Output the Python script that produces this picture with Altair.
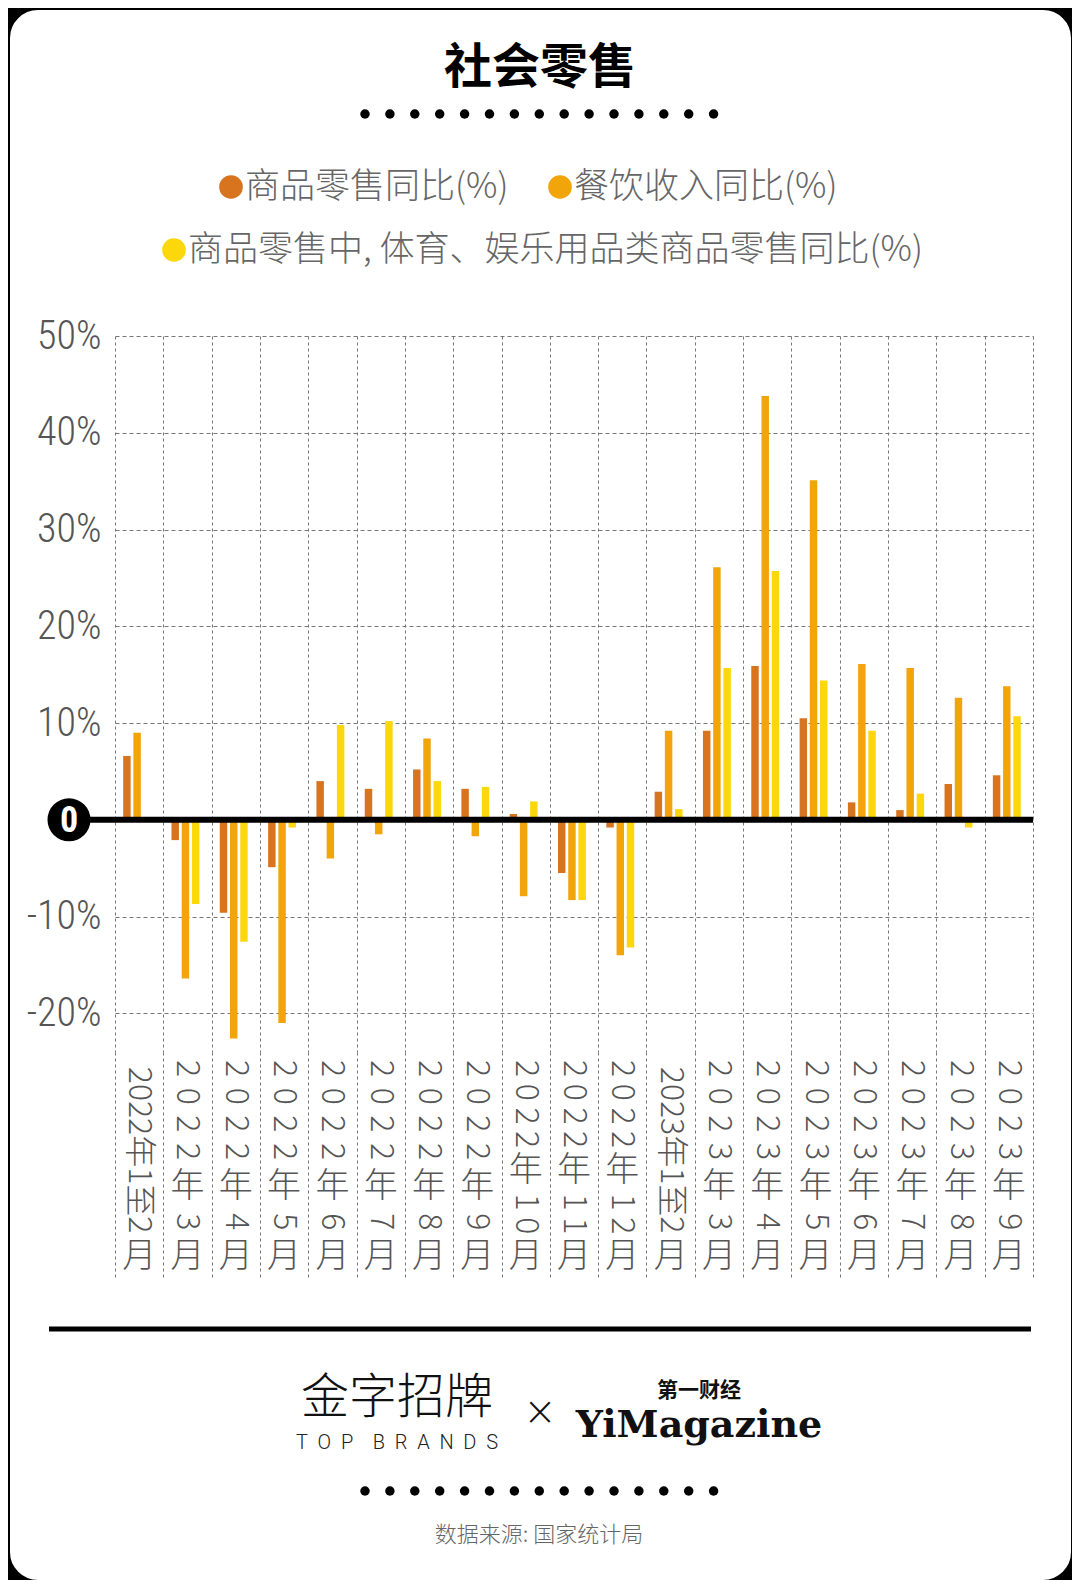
import altair as alt
import pandas as pd

# ---------------- data ----------------
categories = ["2022年1至2月", "2022年3月", "2022年4月", "2022年5月", "2022年6月",
              "2022年7月", "2022年8月", "2022年9月", "2022年10月", "2022年11月",
              "2022年12月", "2023年1至2月", "2023年3月", "2023年4月", "2023年5月",
              "2023年6月", "2023年7月", "2023年8月", "2023年9月"]
series = ["商品零售同比(%)", "餐饮收入同比(%)", "商品零售中, 体育、娱乐用品类商品零售同比(%)"]
goods = [6.6, -2.1, -9.6, -4.9, 4.0, 3.2, 5.2, 3.2, 0.6, -5.5, -0.8, 2.9, 9.2, 15.9, 10.5, 1.8, 1.0, 3.7, 4.6]
catering = [9.0, -16.4, -22.6, -21.0, -4.0, -1.5, 8.4, -1.7, -7.9, -8.3, -14.0, 9.2, 26.1, 43.8, 35.1, 16.1, 15.7, 12.6, 13.8]
sports = [None, -8.7, -12.6, -0.8, 9.8, 10.2, 4.0, 3.4, 1.9, -8.3, -13.2, 1.1, 15.7, 25.7, 14.4, 9.2, 2.7, -0.8, 10.7]
colors = ["#D8731E", "#F2A40B", "#FBD70C"]
y_ticks = [-20, -10, 0, 10, 20, 30, 40, 50]
title_text = "社会零售"
source_text = "数据来源: 国家统计局"

# ---------------- layout ----------------
W, H = 918, 716
OX, OY = 115, 336            # plot origin on the page
PAD = {"left": OX - 8, "top": OY - 8, "right": 1072 - (OX + W), "bottom": 1580 - (OY + H)}
CJK = "Noto Sans CJK SC"
COND = "Roboto Condensed, Liberation Sans Narrow, DejaVu Sans Condensed, Roboto, sans-serif"
GRID = "#777777"
NB = "\u00a0"


def px(x):
    return x - OX


def py(y):
    return y - OY


rows = []
for i, c in enumerate(categories):
    for s, vals in zip(series, [goods, catering, sports]):
        if vals[i] is not None:
            rows.append({"cat": c, "series": s, "value": vals[i]})
df = pd.DataFrame(rows)

xscale = alt.Scale(type="band", domain=categories, paddingInner=0, paddingOuter=0)
yscale = alt.Scale(domain=[-24, 50], nice=False, zero=True)
cscale = alt.Scale(domain=series, range=colors)

x_axis = alt.Axis(title=None, labels=False, domain=False, grid=True,
                  gridColor=GRID, gridDash=[3, 3], gridWidth=1,
                  tickBand="extent", ticks=True, tickSize=225,
                  tickColor=GRID, tickDash=[3, 3], tickWidth=1)

bars = alt.Chart(df).mark_bar().encode(
    x=alt.X("cat:N", scale=xscale, sort=categories, axis=x_axis),
    xOffset=alt.XOffset("series:N", sort=series,
                        scale=alt.Scale(paddingInner=0.27, paddingOuter=1, align=0.4)),
    y=alt.Y("value:Q", scale=yscale,
            axis=alt.Axis(values=y_ticks, title=None,
                          labelExpr="datum.value == 0 ? '' : datum.value + '%'",
                          grid=True, gridDash=[4, 3], gridColor=GRID, gridWidth=1,
                          domain=False, ticks=False, labelFont=COND, labelFontSize=40,
                          labelFontWeight=300, labelColor="#555555", labelPadding=14)),
    color=alt.Color("series:N", scale=cscale, legend=None),
)

zero_df = pd.DataFrame({"v": [0], "t": ["0"]})
baseline = alt.Chart(zero_df).mark_rule(color="black", strokeWidth=6).encode(
    y=alt.Y("v:Q", scale=yscale), x=alt.value(px(69)), x2=alt.value(W))
zero_dot = alt.Chart(zero_df).mark_point(filled=True, color="black", opacity=1, size=1850, shape="circle").encode(
    y=alt.Y("v:Q", scale=yscale), x=alt.value(px(69)))
zero_txt = alt.Chart(zero_df).mark_text(color="white", fontSize=36, font=COND, fontWeight="bold",
                                        baseline="middle", align="center", dy=1).encode(
    y=alt.Y("v:Q", scale=yscale), x=alt.value(px(69)), text="t:N")

# vertical category labels: digits turned sideways, CJK upright, justified to one length
LAB_TOP, LAB_LEN, LFS = py(1059), 215, 34
DIG = 0.56 * LFS


def seg_len(s):
    return sum(DIG if ch.isdigit() else LFS for ch in s)


glyphs = []
for c in categories:
    if "至" in c:
        segs = [(c[:-1], True), (c[-1], False)]
    else:
        segs = [(ch, ch.isdigit()) for ch in c]
    lens = [seg_len(s) for s, _ in segs]
    gap = (LAB_LEN - sum(lens)) / (len(segs) - 1)
    pos = LAB_TOP
    for (s, rot), ln in zip(segs, lens):
        glyphs.append({"cat": c, "t": s, "rot": rot, "cy": pos + ln / 2})
        pos += ln + gap
gdf = pd.DataFrame(glyphs)


def label_layer(rot):
    return alt.Chart(gdf[gdf["rot"] == rot]).mark_text(
        angle=90 if rot else 0, font=CJK, fontSize=LFS if not rot else 32, fontWeight=300,
        color="#555555", align="center", baseline="middle").encode(
        x=alt.X("cat:N", scale=xscale, sort=categories, axis=x_axis),
        y=alt.Y("cy:Q", scale=None, axis=None),
        text="t:N")


def text_at(s, x, y, **kw):
    return alt.Chart(pd.DataFrame({"t": [s]})).mark_text(**kw).encode(
        x=alt.value(x), y=alt.value(y), text="t:N")


title = text_at(title_text, px(540), py(69), font=CJK, fontSize=48, fontWeight="bold",
                color="black", align="center", baseline="middle")

# dotted separators
dots = pd.DataFrame({"dx": [px(365) + 24.9 * i for i in range(15)]})
dots_top = alt.Chart(dots).mark_point(filled=True, color="black", opacity=1, size=90).encode(
    x=alt.X("dx:Q", scale=None, axis=None), y=alt.value(py(114)))
dots_bot = alt.Chart(dots).mark_point(filled=True, color="black", opacity=1, size=90).encode(
    x=alt.X("dx:Q", scale=None, axis=None), y=alt.value(py(1491)))

# legend
leg = pd.DataFrame({
    "series": series,
    "dx": [px(231), px(560), px(174)],
    "tx": [px(245), px(574), px(188)],
    "ly": [py(187), py(187), py(250)],
})
leg_dots = alt.Chart(leg).mark_point(filled=True, opacity=1, size=560).encode(
    x=alt.X("dx:Q", scale=None, axis=None), y=alt.Y("ly:Q", scale=None, axis=None),
    color=alt.Color("series:N", scale=cscale, legend=None))
leg_text = alt.Chart(leg).mark_text(font=CJK, fontSize=35, fontWeight=300, color="#666666",
                                    align="left", baseline="middle").encode(
    x=alt.X("tx:Q", scale=None, axis=None), y=alt.Y("ly:Q", scale=None, axis=None), text="series:N")

# footer
foot_line = alt.Chart(zero_df).mark_rule(color="black", strokeWidth=5).encode(
    x=alt.value(px(49)), x2=alt.value(px(1031)), y=alt.value(py(1329)))
logo1 = text_at("金字招牌", px(397), py(1399), font=CJK, fontSize=48, fontWeight=300,
                color="#111111", align="center", baseline="middle")
brands = (NB * 2).join(list("TOP")) + NB * 4 + (NB * 2).join(list("BRANDS"))
logo1b = text_at(brands, px(397), py(1443), font="Roboto", fontSize=20, fontWeight=300,
                 color="#222222", align="center", baseline="middle")
times = text_at("×", px(540), py(1413), font="DejaVu Sans", fontSize=40, fontWeight=300,
                color="#111111", align="center", baseline="middle")
logo2a = text_at("第一财经", px(699), py(1391), font=CJK, fontSize=21, fontWeight="bold",
                 color="#111111", align="center", baseline="middle")
logo2b = text_at("YiMagazine", px(699), py(1437), font="DejaVu Serif", fontSize=38, fontWeight="bold",
                 color="#111111", align="center", baseline="alphabetic")
source = text_at(source_text, px(539), py(1535), font=CJK, fontSize=22, fontWeight=300,
                 color="#666666", align="center", baseline="middle")

# black rounded frame around the white card
frame = alt.Chart(zero_df).mark_rect(fillOpacity=0, stroke="black", strokeWidth=40, cornerRadius=48).encode(
    x=alt.value(px(-10)), x2=alt.value(px(1091)), y=alt.value(py(-10)), y2=alt.value(py(1600)))

chart = alt.layer(
    bars, baseline, zero_dot, zero_txt, label_layer(True), label_layer(False),
    title, dots_top, dots_bot, leg_dots, leg_text,
    foot_line, logo1, logo1b, times, logo2a, logo2b, source, frame,
).properties(
    width=W, height=H, padding=PAD, autosize=alt.AutoSizeParams(type="none"), background="white"
).configure_view(stroke=None)

chart.save("out.html", embed_options={"renderer": "svg", "actions": False})
